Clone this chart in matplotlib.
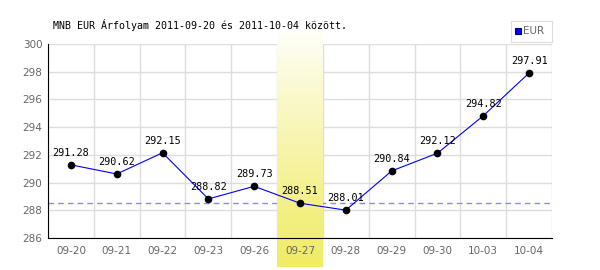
import matplotlib
matplotlib.use("Agg")
import matplotlib.pyplot as plt
import numpy as np

dates = ['09-20', '09-21', '09-22', '09-23', '09-26', '09-27',
         '09-28', '09-29', '09-30', '10-03', '10-04']
eur = [291.28, 290.62, 292.15, 288.82, 289.73, 288.51,
       288.01, 290.84, 292.12, 294.82, 297.91]
highlight = 5  # 09-27
title = 'MNB EUR Árfolyam 2011-09-20 és 2011-10-04 között.'

fig = plt.figure(figsize=(6, 2.7), dpi=100)
ax = fig.add_axes([48 / 600, 1 - 238 / 270, 504 / 600, 194 / 270])

x = np.arange(len(dates))
ax.set_xlim(-0.5, len(dates) - 0.5)
ax.set_ylim(286, 300)

# highlighted day: white to yellow gradient, runs past the axes
grad = np.linspace(0, 1, 256)
top = np.array([1.0, 1.0, 1.0])
bot = np.array([240, 236, 100]) / 255
img = (top + (bot - top) * grad[:, None] ** 0.9)[:, None, :]
px = 14 / 194
ax.imshow(img, extent=[highlight - 0.5, highlight + 0.5, 286 - 29 * px, 300 + 18 * px],
          aspect='auto', origin='upper', zorder=1, clip_on=False)

# grid
for yv in range(286, 301, 2):
    ax.axhline(yv, color='#dddddd', lw=1, zorder=0.5)
for xv in np.arange(-0.5, len(dates), 1):
    ax.axvline(xv, color='#dddddd', lw=1, zorder=0.5)

# dashed reference line at the highlighted day's value (under the band)
ax.axhline(eur[highlight], color='#8888ff', lw=1, ls=(0, (4, 3)), zorder=0.8)
ax.plot(x, eur, color='#0000ff', lw=0.8, zorder=3)
ax.plot(x, eur, 'o', color='black', ms=4.5, zorder=4)
for xi, v in zip(x, eur):
    ax.annotate('%.2f' % v, (xi, v), xytext=(0, 5), textcoords='offset points',
                ha='center', va='bottom', family='DejaVu Sans Mono', fontsize=7.3,
                color='black', zorder=5)

for s in ['top', 'right']:
    ax.spines[s].set_visible(False)
ax.spines['left'].set_color('black')
ax.spines['bottom'].set_color('black')
ax.spines['left'].set_zorder(6)
ax.spines['bottom'].set_zorder(6)

ax.set_xticks(x)
ax.set_xticklabels(dates)
ax.set_yticks(range(286, 301, 2))
ax.tick_params(length=0, labelsize=7.5, labelcolor='#666666')
ax.tick_params(axis='x', pad=6)
ax.tick_params(axis='y', pad=4)

fig.text(53 / 600, 1 - 25 / 270, title, family='DejaVu Sans Mono', fontsize=7.2,
         va='center', ha='left')

# legend box
lax = fig.add_axes([511 / 600, 1 - 42 / 270, 41 / 600, 21 / 270])
lax.set_xticks([])
lax.set_yticks([])
for s in lax.spines.values():
    s.set_color('#dddddd')
lax.set_xlim(0, 41)
lax.set_ylim(0, 21)
lax.plot([7], [10.5], 's', ms=5, mfc='#0000ff', mec='#000066', mew=0.8)
lax.text(12, 10.5, 'EUR', va='center', ha='left', fontsize=7.5, color='#666666')

fig.savefig('out.png', dpi=100)
